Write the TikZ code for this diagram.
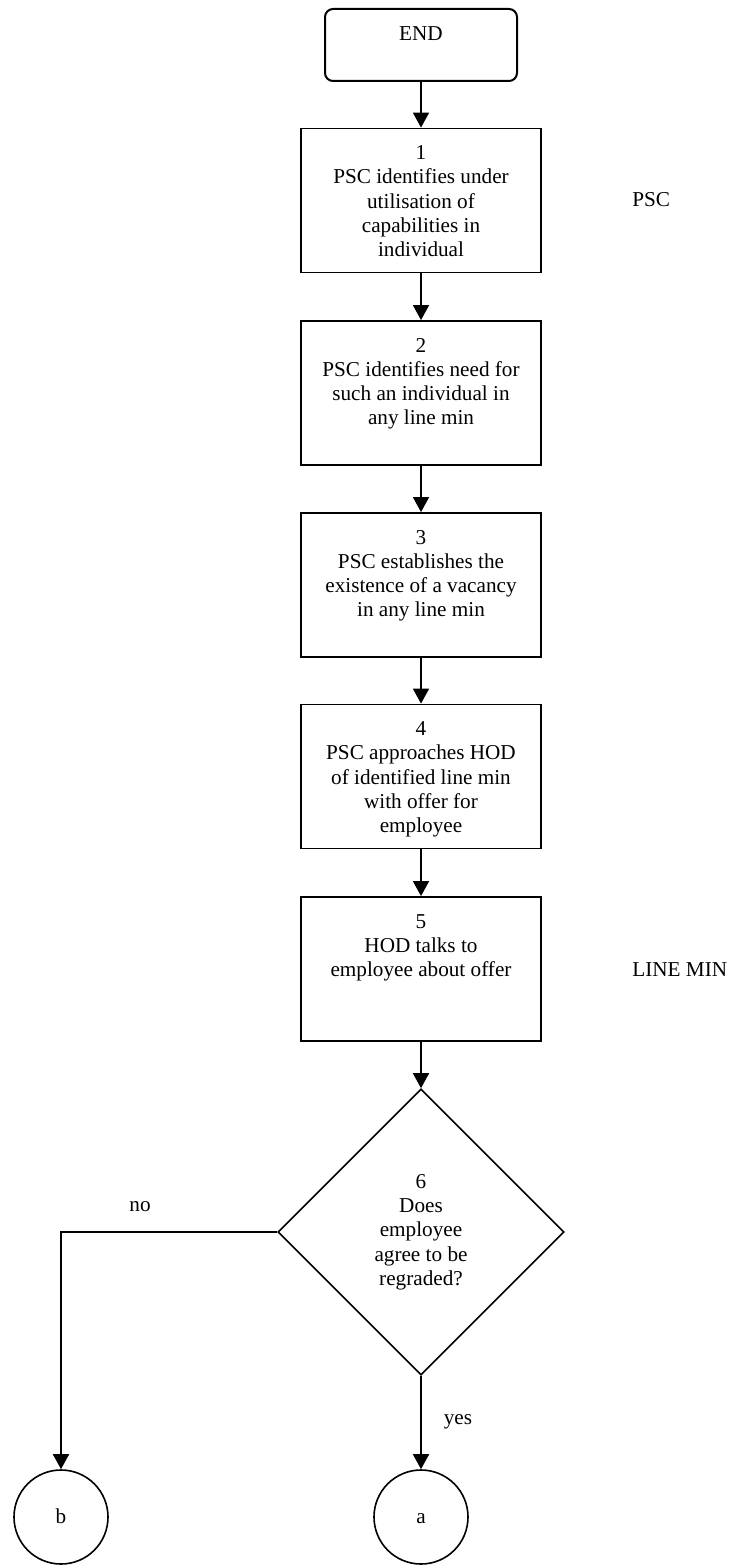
\documentclass[tikz,border=0pt]{standalone}
\usepackage{fontspec}
\setmainfont{Liberation Serif}
\usetikzlibrary{shapes.geometric,arrows.meta}

\newcommand{\steptext}[1]{\parbox[t][58pt][t]{118pt}{\centering\strut #1}}

\tikzset{
  every node/.style={font=\fontsize{10.6}{12.15}\selectfont},
  endbox/.style={draw, line width=1pt, rounded corners=4pt, minimum width=96pt,
                 inner sep=0pt, text height=16pt, text depth=20pt},
  stepbox/.style={draw, line width=0.9pt, rectangle, minimum width=120pt,
                  minimum height=72pt, inner xsep=1pt, inner ysep=7pt},
  decision/.style={draw, line width=0.8pt, diamond, aspect=1, minimum width=143pt,
                   minimum height=143pt, inner sep=0pt, align=center},
  connector/.style={draw, line width=0.8pt, circle, minimum size=47pt, inner sep=0pt,
                    text height=1.6ex, text depth=0.2ex},
  flow/.style={line width=0.8pt, -{Triangle[width=8pt,length=7.5pt]}},
  plain/.style={inner sep=0pt}
}

\begin{document}
\begin{tikzpicture}[x=0.5pt, y=-0.5pt]
  \useasboundingbox (0,0) rectangle (728,1567);

  % process chain
  \node[endbox] (end) at (421,45) {END};
  \node[stepbox] (s1) at (421,200.5) {\steptext{1\\PSC identifies under\\utilisation of\\capabilities in\\individual}};
  \node[stepbox] (s2) at (421,393) {\steptext{2\\PSC identifies need for\\such an individual in\\any line min}};
  \node[stepbox] (s3) at (421,585) {\steptext{3\\PSC establishes the\\existence of a vacancy\\in any line min}};
  \node[stepbox] (s4) at (421,776.5) {\steptext{4\\PSC approaches HOD\\of identified line min\\with offer for\\employee}};
  \node[stepbox] (s5) at (421,969) {\steptext{5\\HOD talks to\\employee about offer}};
  \node[decision] (d6) at (421,1232) {6\\Does\\employee\\agree to be\\regraded?};
  \node[connector] (cb) at (61,1517) {b};
  \node[connector] (ca) at (421,1517) {a};

  % lane labels
  \node[plain, anchor=west] (lpsc) at (632,200) {PSC};
  \node[plain, anchor=west] (lline) at (632,970) {LINE MIN};

  % connectors
  \draw[flow] (end) -- (s1);
  \draw[flow] (s1) -- (s2);
  \draw[flow] (s2) -- (s3);
  \draw[flow] (s3) -- (s4);
  \draw[flow] (s4) -- (s5);
  \draw[flow] (s5) -- (d6);
  \draw[flow] (d6.west) -| (cb.north);
  \draw[flow] (d6.south) -- (ca.north);

  % branch labels
  \node[plain] (lno) at (140,1207) {no};
  \node[plain] (lyes) at (458,1422) {yes};
\end{tikzpicture}
\end{document}
